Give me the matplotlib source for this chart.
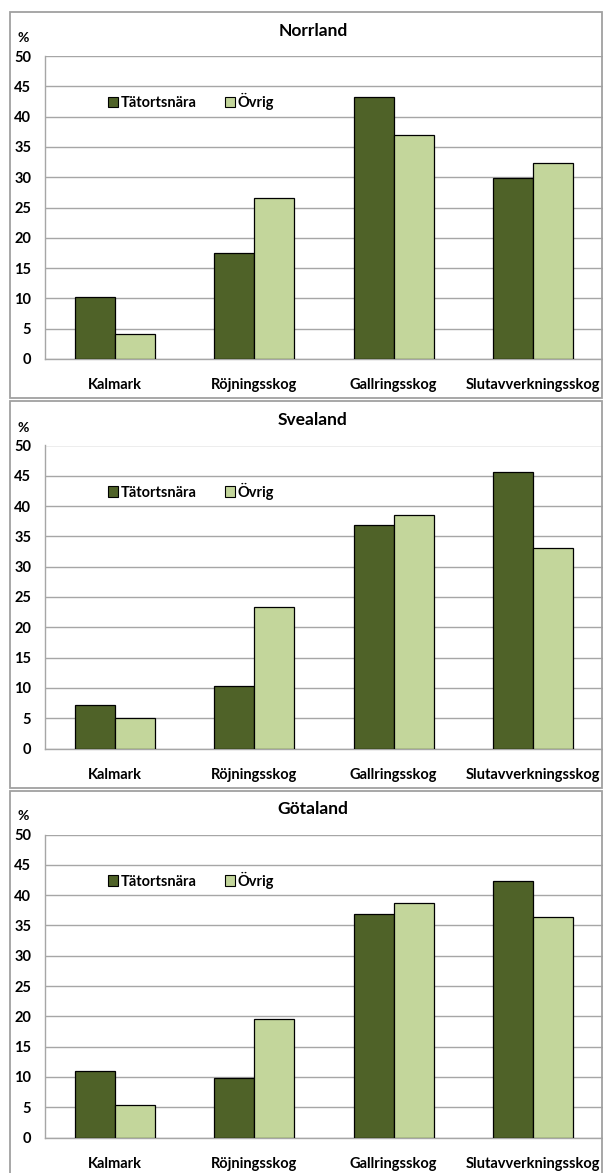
import matplotlib
matplotlib.use("Agg")
import matplotlib.pyplot as plt
from matplotlib.patches import Rectangle, Patch
import numpy as np

plt.rcParams['font.family'] = ['Lato', 'DejaVu Sans']

regions = ["Norrland", "Svealand", "Götaland"]
categories = ["Kalmark", "Röjningsskog", "Gallringsskog", "Slutavverkningsskog"]
series_names = ["Tätortsnära", "Övrig"]
tatortsnara = {
    "Norrland": [10.3, 17.5, 43.3, 29.9],
    "Svealand": [7.2, 10.3, 36.8, 45.6],
    "Götaland": [10.9, 9.9, 36.8, 42.4],
}
ovrig = {
    "Norrland": [4.1, 26.6, 37.0, 32.3],
    "Svealand": [5.0, 23.3, 38.6, 33.1],
    "Götaland": [5.4, 19.5, 38.7, 36.4],
}
yticks = list(range(0, 51, 5))

W, H = 603, 1173
DPI = 100
fig = plt.figure(figsize=(W / DPI, H / DPI), dpi=DPI)

dark = "#4F6228"
light = "#C3D69B"
grid_c = "#A6A6A6"
border_c = "#A0A0A0"
fs = 10.5

def fx(px):
    return px / W

def fy(py):
    return 1 - py / H

panel_tops = [12, 401.5, 790.5]
for i, reg in enumerate(regions):
    top = panel_tops[i]
    # panel border
    fig.patches.append(Rectangle((fx(10), fy(top + 386)), fx(592), 386 / H,
                                 transform=fig.transFigure, fill=False,
                                 edgecolor=border_c, linewidth=1.3))
    y50 = top + 44
    y0 = y50 + 303
    ax = fig.add_axes([fx(45), fy(y0), fx(558), 303 / H])
    x = np.arange(len(categories))
    bw = 0.287
    ax.bar(x - bw / 2, tatortsnara[reg], bw, color=dark, edgecolor="black",
           linewidth=0.9, zorder=3, label=series_names[0])
    ax.bar(x + bw / 2, ovrig[reg], bw, color=light, edgecolor="black",
           linewidth=0.9, zorder=3, label=series_names[1])
    ax.set_xlim(-0.5, 3.5)
    ax.set_ylim(0, 50)
    ax.set_yticks(yticks)
    ax.set_yticklabels([str(t) for t in yticks], fontsize=fs, fontweight="bold")
    ax.set_xticks(x)
    ax.set_xticklabels(categories, fontsize=fs, fontweight="bold")
    ax.tick_params(axis="both", length=0)
    ax.tick_params(axis="y", pad=10)
    ax.tick_params(axis="x", pad=14)
    ax.yaxis.grid(True, color=grid_c, linewidth=1.0, zorder=0)
    ax.set_axisbelow(True)
    for s in ["top", "right"]:
        ax.spines[s].set_visible(False)
    for s in ["left", "bottom"]:
        ax.spines[s].set_color(grid_c)
        ax.spines[s].set_linewidth(1.0)
    ax.set_facecolor("none")
    # title
    fig.text(fx(313), fy(top + 19), reg, ha="center", va="center",
             fontsize=12.5, fontweight="bold")
    # percent label
    fig.text(fx(23), fy(top + 26), "%", ha="center", va="center",
             fontsize=fs - 0.5, fontweight="bold")
    # legend
    handles = [Patch(facecolor=dark, edgecolor="black", linewidth=0.8),
               Patch(facecolor=light, edgecolor="black", linewidth=0.8)]
    ax.legend(handles, series_names, ncol=2, frameon=False, loc="center",
              bbox_to_anchor=(fx(191), fy(top + 89.5)),
              bbox_transform=fig.transFigure,
              prop={"size": fs, "weight": "bold"},
              handlelength=0.7, handleheight=0.7, handletextpad=0.2,
              columnspacing=1.9, borderpad=0)

fig.savefig("out.png", dpi=DPI)
